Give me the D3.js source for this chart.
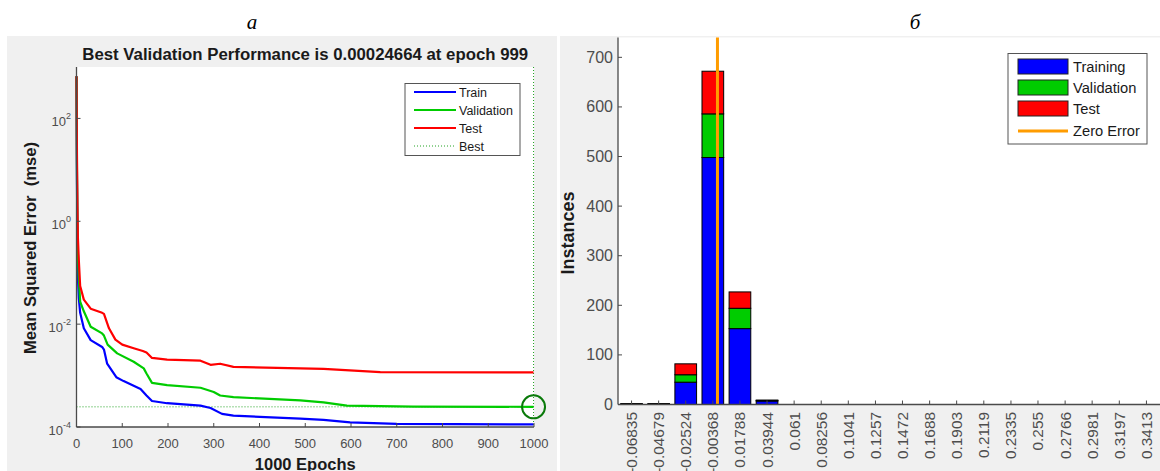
<!DOCTYPE html>
<html>
<head>
<meta charset="utf-8">
<script src="https://cdn.jsdelivr.net/npm/d3@7"></script>
<style>
  body { margin: 0; background: #fff; }
  svg { display: block; font-family: "Liberation Sans", Arial, sans-serif; }
</style>
</head>
<body>
<svg id="chart" width="1160" height="471"></svg>
<script>
// performance curves, [epoch, mse]
const trainPerf = [[0, 660], [1, 6.3], [2, 0.5], [3, 0.085], [5, 0.032], [8, 0.0166], [16, 0.0083], [31, 0.0049],
    [56, 0.0036], [60, 0.0032], [67, 0.0017], [87, 0.00093], [103, 0.00078], [140, 0.00055], [153, 0.00041],
    [165, 0.00032], [198, 0.00029], [271, 0.00026], [293, 0.000234], [318, 0.00018], [343, 0.000166],
    [489, 0.000145], [540, 0.000138], [598, 0.000123], [700, 0.000115], [999, 0.000112]];
const validationPerf = [[0, 660], [1, 10], [2, 1.0], [3, 0.25], [5, 0.08], [8, 0.0275], [16, 0.0178], [31, 0.0089],
    [56, 0.0066], [60, 0.006], [68, 0.004], [89, 0.0027], [125, 0.00186], [147, 0.00138], [153, 0.0011],
    [165, 0.00072], [198, 0.00065], [271, 0.00058], [300, 0.00048], [314, 0.00041], [343, 0.00038],
    [489, 0.00033], [540, 0.0003], [591, 0.00026], [736, 0.00025], [999, 0.00024664]];
const testPerf = [[0, 660], [1, 20], [2, 2.0], [3, 0.5], [5, 0.18], [8, 0.055], [16, 0.030], [31, 0.020],
    [56, 0.0166], [60, 0.0158], [71, 0.0083], [85, 0.005], [100, 0.004], [125, 0.0034], [145, 0.0030],
    [153, 0.0028], [165, 0.0022], [198, 0.00204], [271, 0.00195], [293, 0.00162], [314, 0.0017],
    [343, 0.00148], [489, 0.00138], [540, 0.00135], [664, 0.00117], [999, 0.00115]];
const bestEpoch = 999;
const bestPerf = 0.00024664;
const epochTicks = [0, 100, 200, 300, 400, 500, 600, 700, 800, 900, 1000];
const mseTicks = [[1e2, '2'], [1e0, '0'], [1e-2, '-2'], [1e-4, '-4']];

// error histogram
const binLabels = ['-0.06835', '-0.04679', '-0.02524', '-0.00368', '0.01788', '0.03944', '0.061', '0.08256',
    '0.1041', '0.1257', '0.1472', '0.1688', '0.1903', '0.2119', '0.2335', '0.255', '0.2766', '0.2981',
    '0.3197', '0.3413'];
const trainingCounts =   [2, 2, 45, 498, 153, 7, 0, 0, 0, 0, 0, 0, 0, 0, 0, 0, 0, 0, 0, 0];
const validationCounts = [0, 0, 15, 88, 41, 1, 0, 0, 0, 0, 0, 0, 0, 0, 0, 0, 0, 0, 0, 0];
const testCounts =       [0, 0, 22, 86, 33, 1, 0, 0, 0, 0, 0, 0, 0, 0, 0, 0, 0, 0, 0, 0];
const instanceTicks = [0, 100, 200, 300, 400, 500, 600, 700];

const BLUE = '#0000ff', GREEN = '#00cc00', RED = '#ff0000', ORANGE = '#ff9c00';
const AXIS = '#4a4a4a', TICKTXT = '#4d4d4d', INK = '#1a1a1a';

const svg = d3.select('#chart');

drawPerformance();
drawHistogram();

svg.append('text').attr('x', 252).attr('y', 29).attr('text-anchor', 'middle')
    .style('font-family', '"Liberation Serif", "Times New Roman", serif').style('font-style', 'italic')
    .style('font-size', '21px').attr('fill', '#000').text('a');
svg.append('text').attr('x', 915).attr('y', 29).attr('text-anchor', 'middle')
    .style('font-family', '"Liberation Serif", "Times New Roman", serif').style('font-style', 'italic')
    .style('font-size', '21px').attr('fill', '#000').text('б');

function drawPerformance() {
    const g = svg.append('g');
    g.append('rect').attr('x', 7).attr('y', 36).attr('width', 550).attr('height', 435).attr('fill', '#f0f0f0');

    const x = d3.scaleLinear().domain([0, 1000]).range([76.5, 534]);
    const y = d3.scaleLog().domain([1e-4, 1e3]).range([427, 67]);

    g.append('rect').attr('x', x(0)).attr('y', y(1e3)).attr('width', x(1000) - x(0))
        .attr('height', y(1e-4) - y(1e3)).attr('fill', '#fff');

    g.append('text').attr('x', (x(0) + x(1000)) / 2).attr('y', 60).attr('text-anchor', 'middle')
        .style('font-size', '16.8px').style('font-weight', 'bold').attr('fill', INK)
        .text('Best Validation Performance is 0.00024664 at epoch 999');

    // best markers
    g.append('line').attr('x1', x(0)).attr('x2', x(1000)).attr('y1', y(bestPerf)).attr('y2', y(bestPerf))
        .attr('stroke', '#22a322').attr('stroke-width', 1).attr('stroke-dasharray', '1,2');
    g.append('line').attr('x1', x(bestEpoch)).attr('x2', x(bestEpoch)).attr('y1', y(1e3)).attr('y2', y(1e-4))
        .attr('stroke', '#22a322').attr('stroke-width', 1).attr('stroke-dasharray', '1,2');

    const line = d3.line().x(d => x(d[0])).y(d => y(d[1]));
    [[trainPerf, BLUE], [validationPerf, GREEN], [testPerf, RED]].forEach(([data, color]) => {
        g.append('path').datum(data).attr('d', line).attr('fill', 'none')
            .attr('stroke', color).attr('stroke-width', 2.2).attr('stroke-linejoin', 'round');
    });

    g.append('circle').attr('cx', x(bestEpoch)).attr('cy', y(bestPerf)).attr('r', 11.5)
        .attr('fill', 'none').attr('stroke', '#0a7a0a').attr('stroke-width', 2);

    // axes
    g.append('line').attr('x1', x(0)).attr('x2', x(0)).attr('y1', y(1e3)).attr('y2', y(1e-4))
        .attr('stroke', AXIS).attr('stroke-width', 1.3);
    g.append('line').attr('x1', x(0)).attr('x2', x(1000)).attr('y1', y(1e-4)).attr('y2', y(1e-4))
        .attr('stroke', AXIS).attr('stroke-width', 1.3);

    epochTicks.forEach(t => {
        g.append('line').attr('x1', x(t)).attr('x2', x(t)).attr('y1', y(1e-4)).attr('y2', y(1e-4) - 4)
            .attr('stroke', AXIS);
        g.append('text').attr('x', x(t)).attr('y', 448).attr('text-anchor', 'middle')
            .style('font-size', '13px').attr('fill', TICKTXT).text(t);
    });
    mseTicks.forEach(([v, p]) => {
        g.append('line').attr('x1', x(0)).attr('x2', x(0) + 4).attr('y1', y(v)).attr('y2', y(v))
            .attr('stroke', AXIS);
        const t = g.append('text').attr('x', 71).attr('y', y(v) + 8).attr('text-anchor', 'end')
            .style('font-size', '13px').attr('fill', TICKTXT);
        t.append('tspan').text('10');
        t.append('tspan').attr('dy', -7).style('font-size', '9px').text(p);
    });

    g.append('text').attr('transform', `translate(36,${(y(1e3) + y(1e-4)) / 2 + 1}) rotate(-90)`)
        .attr('text-anchor', 'middle').style('font-size', '16.6px').style('font-weight', 'bold')
        .attr('fill', INK).attr('xml:space', 'preserve').text('Mean Squared Error  (mse)');
    g.append('text').attr('x', (x(0) + x(1000)) / 2).attr('y', 470).attr('text-anchor', 'middle')
        .style('font-size', '16.5px').style('font-weight', 'bold').attr('fill', INK).text('1000 Epochs');

    // legend
    const lg = g.append('g');
    lg.append('rect').attr('x', 405).attr('y', 83.5).attr('width', 115).attr('height', 72)
        .attr('fill', '#fff').attr('stroke', '#555').attr('stroke-width', 1);
    const items = [['Train', BLUE, null], ['Validation', GREEN, null], ['Test', RED, null], ['Best', '#22a322', '1,2']];
    items.forEach(([name, color, dash], i) => {
        const cy = 92 + i * 18;
        lg.append('line').attr('x1', 414).attr('x2', 456).attr('y1', cy).attr('y2', cy)
            .attr('stroke', color).attr('stroke-width', dash ? 1 : 2.2).attr('stroke-dasharray', dash);
        lg.append('text').attr('x', 459).attr('y', cy + 4.5).style('font-size', '12.5px')
            .attr('fill', INK).text(name);
    });
}

function drawHistogram() {
    const g = svg.append('g');
    const centers = binLabels.map(Number);
    const half = (centers[1] - centers[0]) / 2;

    const x = d3.scaleLinear().domain([centers[0] - half, centers[centers.length - 1] + half]).range([618, 1160]);
    const y = d3.scaleLinear().domain([0, 740]).range([404.5, 37.5]);
    const bw = (x(centers[1]) - x(centers[0])) * 0.8;

    g.append('rect').attr('x', 560).attr('y', 36).attr('width', 600).attr('height', 435).attr('fill', '#f0f0f0');
    g.append('rect').attr('x', x.range()[0]).attr('y', y(740)).attr('width', x.range()[1] - x.range()[0])
        .attr('height', y(0) - y(740)).attr('fill', '#fff');

    const rows = centers.map((c, i) => ({ c, training: trainingCounts[i], validation: validationCounts[i], test: testCounts[i] }));
    const stack = d3.stack().keys(['training', 'validation', 'test'])(rows);
    const colors = { training: BLUE, validation: GREEN, test: RED };

    stack.forEach(layer => {
        g.append('g').selectAll('rect').data(layer.filter(d => d[1] > d[0])).join('rect')
            .attr('x', d => x(d.data.c) - bw / 2).attr('width', bw)
            .attr('y', d => y(d[1])).attr('height', d => y(d[0]) - y(d[1]))
            .attr('fill', colors[layer.key]).attr('stroke', '#000').attr('stroke-width', 1);
    });

    g.append('line').attr('x1', x(0)).attr('x2', x(0)).attr('y1', y(740)).attr('y2', y(0))
        .attr('stroke', ORANGE).attr('stroke-width', 3);

    // axes
    g.append('line').attr('x1', 618).attr('x2', 618).attr('y1', y(740)).attr('y2', y(0))
        .attr('stroke', AXIS).attr('stroke-width', 1.3);
    g.append('line').attr('x1', 618).attr('x2', 1160).attr('y1', y(0)).attr('y2', y(0))
        .attr('stroke', AXIS).attr('stroke-width', 1.3);

    instanceTicks.forEach(t => {
        g.append('line').attr('x1', 618).attr('x2', 622).attr('y1', y(t)).attr('y2', y(t)).attr('stroke', AXIS);
        g.append('text').attr('x', 613).attr('y', y(t) + 5.5).attr('text-anchor', 'end')
            .style('font-size', '16px').attr('fill', TICKTXT).text(t);
    });
    binLabels.forEach((lab, i) => {
        const cx = x(centers[i]);
        g.append('line').attr('x1', cx).attr('x2', cx).attr('y1', y(0)).attr('y2', y(0) - 4).attr('stroke', AXIS);
        g.append('text').attr('transform', `translate(${cx + 5.5},412) rotate(-90)`).attr('text-anchor', 'end')
            .style('font-size', '15.4px').attr('fill', TICKTXT).text(lab);
    });

    g.append('text').attr('transform', `translate(574,${(y(0) + y(740)) / 2 + 12}) rotate(-90)`)
        .attr('text-anchor', 'middle').style('font-size', '18px').style('font-weight', 'bold')
        .attr('fill', INK).text('Instances');

    // legend
    const lg = g.append('g');
    lg.append('rect').attr('x', 1008).attr('y', 53.5).attr('width', 139).attr('height', 90.5)
        .attr('fill', '#fff').attr('stroke', '#555').attr('stroke-width', 1);
    [['Training', BLUE], ['Validation', GREEN], ['Test', RED]].forEach(([name, color], i) => {
        const cy = 66.5 + i * 21;
        lg.append('rect').attr('x', 1018).attr('y', cy - 7.5).attr('width', 50).attr('height', 15)
            .attr('fill', color).attr('stroke', '#222').attr('stroke-width', 1);
        lg.append('text').attr('x', 1073).attr('y', cy + 5).style('font-size', '14.7px')
            .attr('fill', INK).text(name);
    });
    lg.append('line').attr('x1', 1018).attr('x2', 1068).attr('y1', 131).attr('y2', 131)
        .attr('stroke', ORANGE).attr('stroke-width', 3);
    lg.append('text').attr('x', 1073).attr('y', 136).style('font-size', '14.7px').attr('fill', INK).text('Zero Error');
}
</script>
</body>
</html>
